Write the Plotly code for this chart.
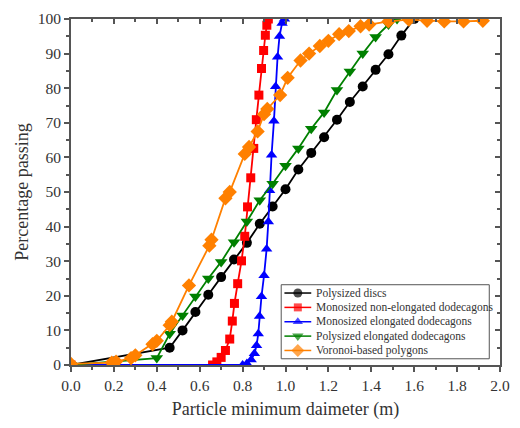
import plotly.graph_objects as go

# Polysized discs
disc_x = [0.0, 0.46, 0.52, 0.58, 0.64, 0.70, 0.76, 0.82, 0.88, 0.94, 1.00, 1.06, 1.12, 1.18, 1.24, 1.30, 1.36, 1.42, 1.48, 1.54, 1.60]
disc_y = [0.0, 5.0, 10.0, 15.3, 20.3, 25.4, 30.5, 35.3, 40.8, 45.8, 50.8, 56.5, 61.3, 65.8, 70.9, 76.0, 80.5, 85.3, 89.8, 95.2, 100.0]

# Monosized non-elongated dodecagons
mono_x = [0.0, 0.66, 0.68, 0.70, 0.72, 0.74, 0.752, 0.762, 0.777, 0.795, 0.81, 0.823, 0.838, 0.852, 0.864, 0.876, 0.888, 0.898, 0.906, 0.913, 0.92]
mono_y = [0.0, 0.0, 0.9, 2.2, 4.2, 7.5, 12.7, 17.8, 23.5, 30.1, 37.2, 45.7, 54.1, 62.6, 70.9, 78.0, 85.7, 90.9, 95.3, 98.2, 100.0]

# Monosized elongated dodecagons
elong_x = [0.0, 0.80, 0.82, 0.84, 0.855, 0.865, 0.873, 0.879, 0.888, 0.900, 0.912, 0.920, 0.926, 0.935, 0.946, 0.954, 0.963, 0.972, 0.984, 0.995]
elong_y = [0.0, 0.0, 0.4, 1.5, 3.3, 5.6, 9.0, 14.1, 19.8, 25.9, 33.5, 41.4, 50.4, 60.7, 70.5, 80.5, 89.0, 95.0, 98.8, 100.0]

# Polysized elongated dodecagons
pelong_x = [0.0, 0.40, 0.46, 0.52, 0.58, 0.64, 0.70, 0.76, 0.82, 0.88, 0.94, 1.00, 1.06, 1.12, 1.18, 1.24, 1.30, 1.36, 1.42, 1.48, 1.52]
pelong_y = [0.0, 2.0, 9.0, 14.3, 19.8, 25.0, 29.8, 35.5, 41.5, 47.6, 52.4, 57.6, 62.6, 68.3, 73.0, 79.5, 84.8, 90.0, 94.8, 98.4, 100.0]

# Voronoi-based polygons
vor_x = [0.0, 0.19, 0.21, 0.28, 0.30, 0.38, 0.40, 0.46, 0.47, 0.55, 0.645, 0.655, 0.72, 0.74, 0.81, 0.83, 0.87, 0.90, 0.915, 0.975, 1.01, 1.07, 1.11, 1.16, 1.20, 1.25, 1.295, 1.35, 1.39, 1.48, 1.575, 1.66, 1.74, 1.83, 1.92]
vor_y = [0.3, 0.7, 1.0, 2.0, 2.8, 6.0, 7.0, 11.5, 12.5, 23.0, 34.5, 36.2, 48.2, 50.0, 61.0, 63.0, 67.5, 72.5, 74.0, 78.0, 83.0, 88.0, 90.0, 92.2, 93.7, 95.6, 96.5, 97.9, 98.4, 99.3, 99.8, 99.5, 99.3, 99.3, 99.5]

x_ticks = [0.0, 0.2, 0.4, 0.6, 0.8, 1.0, 1.2, 1.4, 1.6, 1.8, 2.0]
y_ticks = [0, 10, 20, 30, 40, 50, 60, 70, 80, 90, 100]

series = [
    ("Polysized discs", disc_x, disc_y, "black", "circle", 10),
    ("Monosized non-elongated dodecagons", mono_x, mono_y, "#ff0000", "square", 9),
    ("Monosized elongated dodecagons", elong_x, elong_y, "#0000ff", "triangle-up", 10),
    ("Polysized elongated dodecagons", pelong_x, pelong_y, "#008000", "triangle-down", 11),
    ("Voronoi-based polygons", vor_x, vor_y, "#ff8000", "diamond", 11),
]

AX = "#555555"
TXT = "#333333"
SERIF = "Liberation Serif"

fig = go.Figure()
for name, xs, ys, col, sym, sz in series:
    fig.add_trace(go.Scatter(
        x=xs, y=ys, name=name, mode="lines+markers",
        line=dict(color=col, width=1.8),
        marker=dict(symbol=sym, size=sz, color=col, line=dict(width=0)),
        showlegend=False,
    ))

# ---- hand-drawn legend box (in x2/y2 axis units, same scale as main axes) ----
lg_x0, lg_x1 = 0.98, 1.95      # box left/right
lg_y1 = 23.2                   # box top
row_h = 4.15                   # row spacing
first_row = 20.8
samp_x0, samp_x1 = 0.995, 1.12
text_x = 1.135

fig.add_trace(go.Scatter(
    x=[lg_x0, lg_x1, lg_x1, lg_x0, lg_x0],
    y=[lg_y1, lg_y1, first_row - row_h * 4 - 2.4, first_row - row_h * 4 - 2.4, lg_y1],
    xaxis="x2", yaxis="y2", mode="lines", fill="toself", fillcolor="white",
    line=dict(color=AX, width=1), showlegend=False, hoverinfo="skip",
))
for i, (name, xs, ys, col, sym, sz) in enumerate(series):
    yy = first_row - i * row_h
    fig.add_trace(go.Scatter(
        x=[samp_x0, (samp_x0 + samp_x1) / 2, samp_x1], y=[yy, yy, yy],
        xaxis="x2", yaxis="y2", mode="lines+markers",
        line=dict(color=col, width=1.5),
        marker=dict(symbol=sym, size=[0, sz - 1, 0], color=col, line=dict(width=0)),
        showlegend=False, hoverinfo="skip",
    ))
    fig.add_annotation(
        x=text_x, y=yy, xref="x2", yref="y2", text=name, showarrow=False,
        xanchor="left", yanchor="middle",
        font=dict(family=SERIF, size=11.5, color=TXT),
    )

axis_font = dict(family=SERIF, size=15.5, color=TXT)
fig.update_layout(
    width=520, height=428,
    margin=dict(l=71, r=10, t=11, b=63),
    paper_bgcolor="white", plot_bgcolor="white",
    font=dict(family=SERIF, color=TXT),
    showlegend=False,
    xaxis=dict(
        range=[0, 2.0], tickvals=x_ticks, ticktext=[f"{v:.1f}" for v in x_ticks],
        ticks="outside", ticklen=5, tickwidth=1.5, tickcolor=AX,
        minor=dict(dtick=0.1, ticks="outside", ticklen=3, tickcolor=AX, tickwidth=1.5),
        showline=True, linecolor=AX, linewidth=2, showgrid=False, zeroline=False,
        tickfont=axis_font,
        title=dict(text="Particle minimum daimeter (m)", font=dict(family=SERIF, size=18, color=TXT), standoff=10),
    ),
    yaxis=dict(
        range=[0, 100], tickvals=y_ticks,
        ticks="outside", ticklen=5, tickwidth=1.5, tickcolor=AX,
        minor=dict(dtick=5, ticks="outside", ticklen=3, tickcolor=AX, tickwidth=1.5),
        showline=True, linecolor=AX, linewidth=2, showgrid=False, zeroline=False,
        tickfont=axis_font,
        title=dict(text="Percentage passing", font=dict(family=SERIF, size=18, color=TXT), standoff=4),
    ),
    xaxis2=dict(
        overlaying="x", side="top", anchor="y", range=[0, 2.0], tickvals=x_ticks,
        showticklabels=False, ticks="inside", ticklen=5, tickwidth=1.5, tickcolor=AX,
        minor=dict(dtick=0.1, ticks="inside", ticklen=3, tickcolor=AX, tickwidth=1.5),
        showline=True, linecolor=AX, linewidth=2, showgrid=False, zeroline=False,
    ),
    yaxis2=dict(
        overlaying="y", side="right", anchor="x", range=[0, 100], tickvals=y_ticks,
        showticklabels=False, ticks="inside", ticklen=5, tickwidth=1.5, tickcolor=AX,
        minor=dict(dtick=5, ticks="inside", ticklen=3, tickcolor=AX, tickwidth=1.5),
        showline=True, linecolor=AX, linewidth=2, showgrid=False, zeroline=False,
    ),
)

fig.write_html("out.html")
